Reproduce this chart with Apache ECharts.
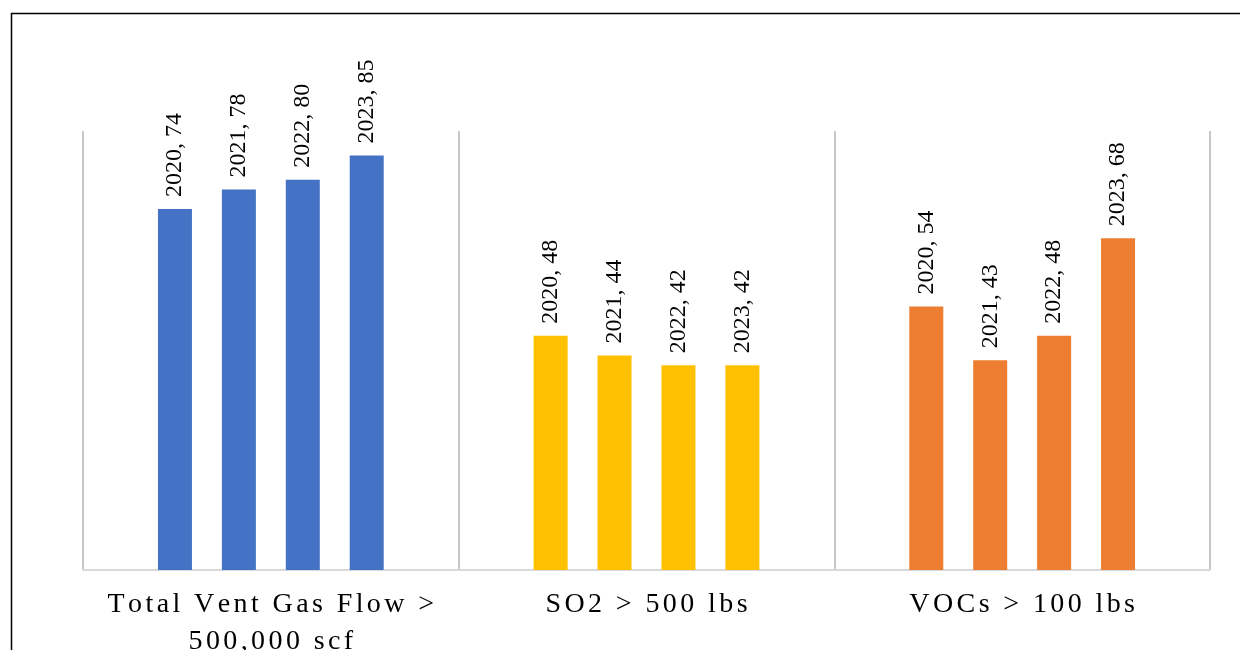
<!DOCTYPE html>
<html>
<head>
<meta charset="utf-8">
<script src="https://cdn.jsdelivr.net/npm/echarts@6/dist/echarts.min.js"></script>
<style>
    html, body {margin: 0; padding: 0; background: #fff;}
    #chart {width: 1240px; height: 650px;}
</style>
</head>
<body>
<div id="chart"></div>
<script>
// categories and yearly values
const categories = ["Total Vent Gas Flow >\n500,000 scf", "SO2 > 500 lbs", "VOCs > 100 lbs"];
const years = ["2020", "2021", "2022", "2023"];
const v2020 = [74, 48, 54];
const v2021 = [78, 44, 43];
const v2022 = [80, 42, 48];
const v2023 = [85, 42, 68];
const catColors = ["#4472C4", "#FFC000", "#ED7D31"];

const values = [v2020, v2021, v2022, v2023];
const font = "'Liberation Serif', 'Times New Roman', serif";

// spaced-out category labels like the original: draw the 28px text char by char
const origFill = CanvasRenderingContext2D.prototype.fillText;
CanvasRenderingContext2D.prototype.fillText = function (t, x, y, w) {
    if (this.font.indexOf("28px") < 0 || typeof t !== "string" || t.length < 2) {
        return w === undefined ? origFill.call(this, t, x, y) : origFill.call(this, t, x, y, w);
    }
    const sp = 3.4;
    const chars = Array.from(t);
    const widths = chars.map(c => this.measureText(c).width);
    const total = widths.reduce((a, b) => a + b, 0) + sp * (chars.length - 1);
    const align = this.textAlign;
    let cx = x;
    if (align === "center") cx = x - total / 2;
    else if (align === "right" || align === "end") cx = x - total;
    this.textAlign = "left";
    chars.forEach((c, i) => {
        origFill.call(this, c, cx, y);
        cx += widths[i] + sp;
    });
    this.textAlign = align;
};

let chart = echarts.init(document.getElementById("chart"));
let option = {
    animation: false,
    graphic: [{
        type: "rect",
        shape: {x: 11.5, y: 13.5, width: 1400, height: 800},
        style: {fill: null, stroke: "#000", lineWidth: 1.5},
        silent: true
    }],
    grid: {left: 83, right: 30, top: 131, bottom: 80, outerBoundsMode: "none"},
    xAxis: {
        type: "category",
        data: categories,
        axisLine: {lineStyle: {color: "#D9D9D9", width: 2}},
        axisTick: {show: false},
        splitLine: {show: true, lineStyle: {color: "#B4B4B4", width: 1.5}},
        axisLabel: {
            color: "#000",
            fontFamily: font,
            fontSize: 28,
            lineHeight: 37,
            margin: 16,
            interval: 0
        }
    },
    yAxis: {
        type: "value",
        min: 0,
        max: 90,
        show: false,
        splitLine: {show: false}
    },
    series: years.map((y, i) => ({
        name: y,
        type: "bar",
        data: values[i],
        barWidth: 34,
        barGap: "88%",
        itemStyle: {
            color: (p) => catColors[p.dataIndex]
        },
        label: {
            show: true,
            position: "top",
            rotate: 90,
            align: "left",
            verticalAlign: "middle",
            distance: 12,
            formatter: "{a}, {c}",
            color: "#000",
            fontFamily: font,
            fontSize: 24
        }
    }))
};
chart.setOption(option);
</script>
</body>
</html>
